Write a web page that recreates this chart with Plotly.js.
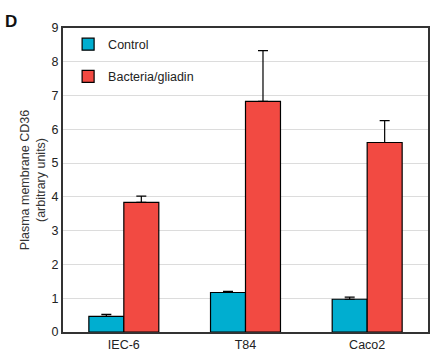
<!DOCTYPE html>
<html>
<head>
<meta charset="utf-8">
<script src="https://cdn.plot.ly/plotly-3.0.1.min.js"></script>
<style>html,body{margin:0;padding:0;background:#fff;}#chart{width:436px;height:353px;}</style>
</head>
<body>
<div id="chart"></div>
<script>
const categories = ["IEC-6", "T84", "Caco2"];
const controlValues = [0.46, 1.17, 0.97];
const controlErrors = [0.06, 0.03, 0.06];
const bacteriaValues = [3.84, 6.83, 5.61];
const bacteriaErrors = [0.18, 1.50, 0.65];
const seriesNames = ["Control", "Bacteria/gliadin"];
const yTicks = [0, 1, 2, 3, 4, 5, 6, 7, 8, 9];

const zeros = categories.map(() => 0);
const font = "Liberation Sans, Arial, Helvetica, sans-serif";

const traces = [
  {
    type: "bar", x: categories, y: controlValues, name: seriesNames[0], legendgroup: "a",
    marker: {color: "#00AED0", line: {color: "#000", width: 1.2}},
    error_y: {type: "data", symmetric: false, array: controlErrors, arrayminus: zeros, color: "#000", thickness: 1.2, width: 5}
  },
  {
    type: "bar", x: categories, y: bacteriaValues, name: seriesNames[1], legendgroup: "b",
    marker: {color: "#F24A42", line: {color: "#000", width: 1.2}},
    error_y: {type: "data", symmetric: false, array: bacteriaErrors, arrayminus: zeros, color: "#000", thickness: 1.2, width: 5}
  }
];

const layout = {
  width: 436, height: 353,
  margin: {l: 63, r: 8, t: 28, b: 21},
  paper_bgcolor: "#fff", plot_bgcolor: "#fff",
  font: {family: font, size: 12, color: "#222"},
  barmode: "group", bargap: 0.425, bargroupgap: 0,
  showlegend: true,
  legend: {x: 0.014, y: 0.995, xanchor: "left", yanchor: "top", traceorder: "grouped", tracegroupgap: 13,
           font: {family: font, size: 12.5, color: "#222"}, bgcolor: "rgba(0,0,0,0)", itemwidth: 30},
  xaxis: {type: "category", showline: true, linecolor: "#333", linewidth: 2, mirror: true,
          ticks: "", tickfont: {family: font, size: 12.5, color: "#222"}, showgrid: false, zeroline: false},
  yaxis: {range: [0, 9], tickvals: yTicks, showline: true, linecolor: "#333", linewidth: 2, mirror: true,
          ticks: "", ticklen: 0, tickfont: {family: font, size: 12.5, color: "#222"},
          showgrid: true, gridcolor: "#dcdcdc", gridwidth: 1, zeroline: false,
          title: {text: "Plasma membrane CD36<br>(arbitrary units)", font: {family: font, size: 12.5, color: "#333"}, standoff: 3}},
  annotations: [
    {text: "<b>D</b>", xref: "paper", yref: "paper", x: -0.165, y: 1.06, xanchor: "left", yanchor: "top",
     showarrow: false, font: {family: font, size: 17, color: "#111"}}
  ]
};

Plotly.newPlot("chart", traces, layout, {displayModeBar: false, staticPlot: true});
</script>
</body>
</html>
